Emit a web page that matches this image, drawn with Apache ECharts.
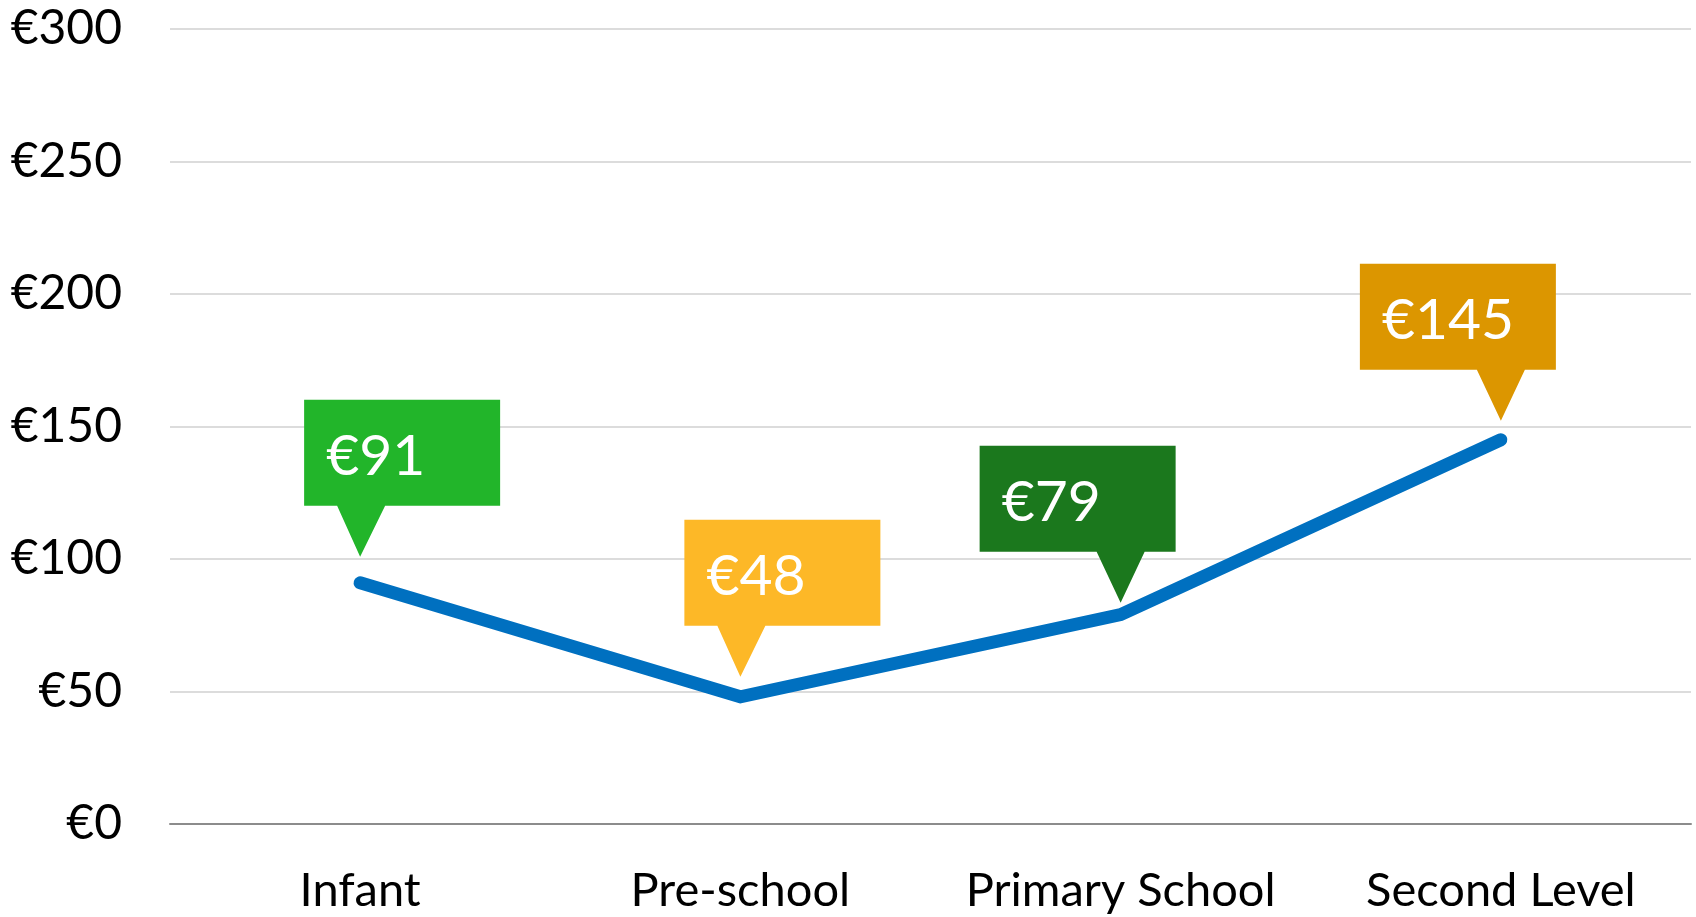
<!DOCTYPE html>
<html>
<head>
<meta charset="utf-8">
<title>Cost by school level</title>
<script src="https://cdn.jsdelivr.net/npm/echarts@6/dist/echarts.min.js"></script>
<style>
  html, body { margin: 0; padding: 0; background: #fff; }
  #chart { width: 1696px; height: 917px; }
</style>
</head>
<body>
<div id="chart"></div>
<script>
// data
const categories = ['Infant', 'Pre-school', 'Primary School', 'Second Level'];
const costs = [91, 48, 79, 145];
const yMin = 0;
const yMax = 300;
const yStep = 50;

// callout look: colour, which side of the box the pointer sits, gap above the point
const calloutColors = ['#22b52a', '#fdb827', '#1b781d', '#dc9600'];
const calloutSides = ['left', 'left', 'right', 'right'];
const calloutGaps = [26, 20, 12, 19];

const FONT = 'Lato, "Open Sans", sans-serif';

// box 196x106 with a pointer 51 high, tip at x=56 (left) or x=141 (right)
const paths = {
    left: 'path://M0,0L196,0L196,106L81,106L56,157L33,106L0,106Z',
    right: 'path://M0,0L196,0L196,106L165,106L141,157L117,106L0,106Z'
};
const tipX = { left: 56, right: 141 };

const calloutData = costs.map((v, i) => {
    const side = calloutSides[i];
    return {
        coord: [categories[i], v],
        value: v,
        symbol: paths[side],
        symbolSize: [196, 157],
        symbolOffset: [98 - tipX[side], -calloutGaps[i] - 78.5],
        itemStyle: { color: calloutColors[i] },
        label: {
            show: true,
            position: [22, 57],
            align: 'left',
            verticalAlign: 'middle',
            color: '#fff',
            fontFamily: FONT,
            fontSize: 57,
            formatter: '€' + v
        }
    };
});

const myChart = echarts.init(document.getElementById('chart'));
myChart.setOption({
    animation: false,
    grid: {
        left: 170,
        right: 5,
        top: 29,
        bottom: 93,
        containLabel: false,
        outerBoundsMode: 'none'
    },
    xAxis: {
        type: 'category',
        data: categories,
        boundaryGap: true,
        axisTick: { show: false },
        axisLine: { lineStyle: { color: '#8c8c8c', width: 2 } },
        axisLabel: {
            interval: 0,
            color: '#000',
            fontFamily: FONT,
            fontSize: 47,
            lineHeight: 48,
            margin: 43
        }
    },
    yAxis: {
        type: 'value',
        min: yMin,
        max: yMax,
        interval: yStep,
        axisLine: { show: false },
        axisTick: { show: false },
        splitLine: { lineStyle: { color: '#dcdcdc', width: 2 } },
        axisLabel: {
            color: '#000',
            fontFamily: FONT,
            fontSize: 48,
            margin: 48,
            formatter: val => '€' + val
        }
    },
    series: [
        {
            type: 'line',
            data: costs,
            showSymbol: false,
            lineStyle: { color: '#0070c0', width: 13, cap: 'round', join: 'miter' },
            markPoint: {
                silent: true,
                data: calloutData
            }
        }
    ]
});
</script>
</body>
</html>
